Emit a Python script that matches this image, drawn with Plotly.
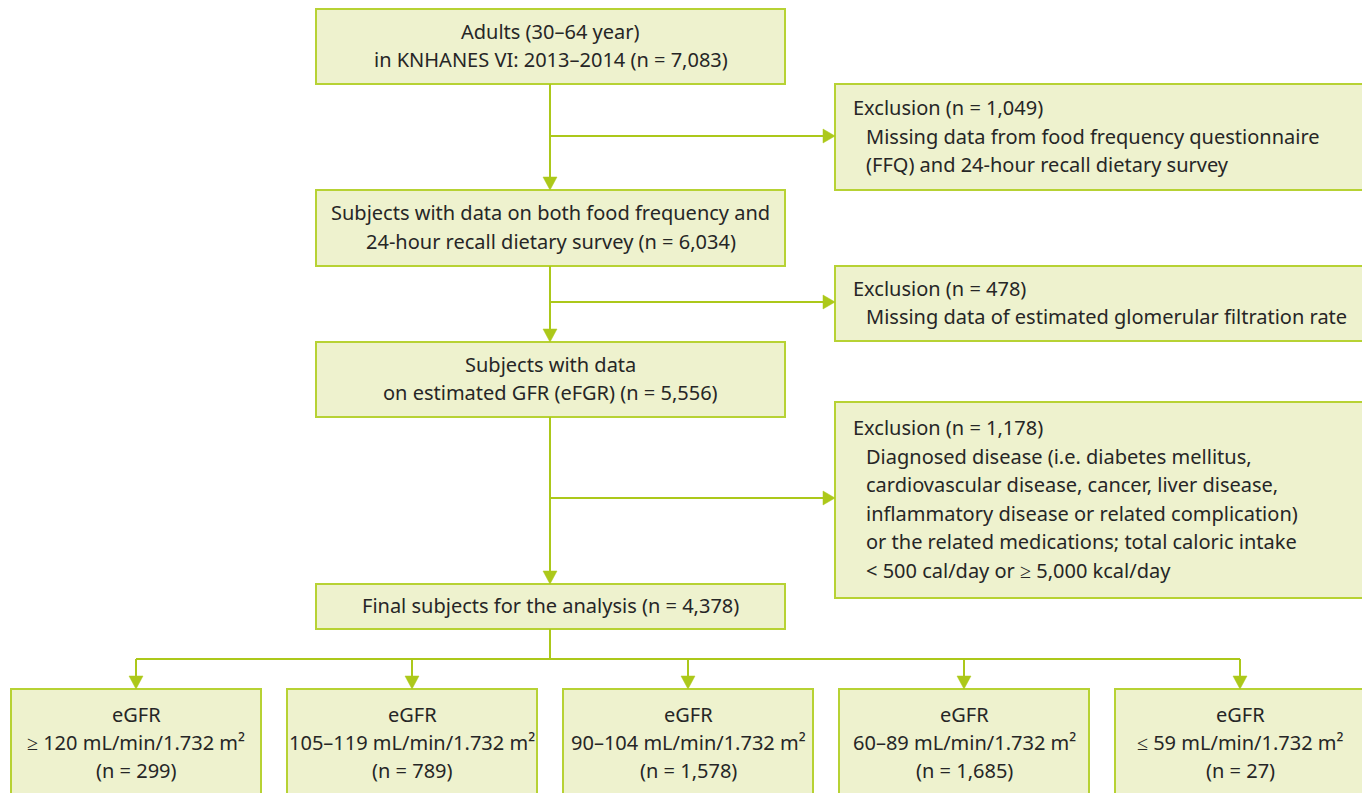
import plotly.graph_objects as go

# ---- content ----
main_texts = [
    ["Adults (30–64 year)", "in KNHANES VI: 2013–2014 (n = 7,083)"],
    ["Subjects with data on both food frequency and", "24-hour recall dietary survey (n = 6,034)"],
    ["Subjects with data", "on estimated GFR (eFGR) (n = 5,556)"],
    ["Final subjects for the analysis (n = 4,378)"],
]
excl_titles = ["Exclusion (n = 1,049)", "Exclusion (n = 478)", "Exclusion (n = 1,178)"]
excl_details = [
    ["Missing data from food frequency questionnaire", "(FFQ) and 24-hour recall dietary survey"],
    ["Missing data of estimated glomerular filtration rate"],
    ["Diagnosed disease (i.e. diabetes mellitus,",
     "cardiovascular disease, cancer, liver disease,",
     "inflammatory disease or related complication)",
     "or the related medications; total caloric intake",
     "< 500 cal/day or ≥ 5,000 kcal/day"],
]
group_ranges = ["≥ 120 mL/min/1.732 m²", "105–119 mL/min/1.732 m²",
                "90–104 mL/min/1.732 m²", "60–89 mL/min/1.732 m²",
                "≤ 59 mL/min/1.732 m²"]
group_n = ["(n = 299)", "(n = 789)", "(n = 1,578)", "(n = 1,685)", "(n = 27)"]

# ---- layout geometry (pixels) ----
W, H = 1370, 793
OFF = 8  # page body margin compensation
FILL = "#EEF2CE"
EDGE = "#B7D234"
LINE = "#ACC81A"
TXT = "#262626"
FONT = "Noto Sans"
FS = 20
LH = 28.5

main_x = (316, 785)
main_y = [(9, 84), (190, 266), (342, 417), (584, 629)]
excl_x = (835, 1364)
excl_y = [(84, 190), (266, 341), (402, 598)]
excl_branch_y = [136, 302, 498]
cx = 550
bot_y = (689, 805)
bot_w = 250
bot_x0 = [11 + 276 * i for i in range(5)]
bus_y = 659

fig = go.Figure()
shapes = []
ann = []


def box(x0, x1, y0, y1):
    shapes.append(dict(type="rect", x0=x0, x1=x1, y0=y0, y1=y1,
                       fillcolor=FILL, line=dict(color=EDGE, width=2), layer="below"))


def seg(x0, y0, x1, y1):
    shapes.append(dict(type="line", x0=x0, y0=y0, x1=x1, y1=y1,
                       line=dict(color=LINE, width=2)))


def head_down(x, y):
    shapes.append(dict(type="path", path=f"M {x-7},{y-13} L {x+7},{y-13} L {x},{y} Z",
                       fillcolor=LINE, line=dict(color=LINE, width=0.5)))


def head_right(x, y):
    shapes.append(dict(type="path", path=f"M {x-12},{y-7} L {x-12},{y+7} L {x},{y} Z",
                       fillcolor=LINE, line=dict(color=LINE, width=0.5)))


def text(x, y, s, align="center"):
    ann.append(dict(x=x, y=y, text=s, showarrow=False, xanchor=align, yanchor="middle",
                    font=dict(family=FONT, size=FS, color=TXT)))


# main boxes
for (y0, y1), lines in zip(main_y, main_texts):
    box(main_x[0], main_x[1], y0, y1)
    mid = (y0 + y1) / 2
    n = len(lines)
    for i, s in enumerate(lines):
        text((main_x[0] + main_x[1]) / 2, mid + (i - (n - 1) / 2) * LH - 1, s)

# exclusion boxes
for (y0, y1), t, det, by in zip(excl_y, excl_titles, excl_details, excl_branch_y):
    box(excl_x[0], excl_x[1], y0, y1)
    lines = [t] + det
    n = len(lines)
    mid = (y0 + y1) / 2
    for i, s in enumerate(lines):
        xx = 851 if i == 0 else 864
        text(xx, mid + (i - (n - 1) / 2) * LH - 1, s, align="left")
    seg(cx, by, excl_x[0] - 10, by)
    head_right(excl_x[0], by)

# vertical connectors
for (a, b) in zip(main_y[:-1], main_y[1:]):
    seg(cx, a[1], cx, b[0] - 10)
    head_down(cx, b[0])

# bottom bus
centers = [x0 + bot_w / 2 for x0 in bot_x0]
seg(cx, main_y[-1][1], cx, bus_y)
seg(centers[0], bus_y, centers[-1], bus_y)
for x0, c, r, nn in zip(bot_x0, centers, group_ranges, group_n):
    seg(c, bus_y, c, bot_y[0] - 10)
    head_down(c, bot_y[0])
    box(x0, x0 + bot_w, bot_y[0], bot_y[1])
    text(c, 714, "eGFR")
    text(c, 742, r)
    text(c, 770, nn)

fig.update_layout(
    width=W, height=H, margin=dict(l=0, r=0, t=0, b=0),
    paper_bgcolor="white", plot_bgcolor="white",
    xaxis=dict(range=[OFF, W + OFF], visible=False, fixedrange=True),
    yaxis=dict(range=[H + OFF, OFF], visible=False, fixedrange=True),
    shapes=shapes, annotations=ann, showlegend=False,
)
fig.write_html("out.html")
